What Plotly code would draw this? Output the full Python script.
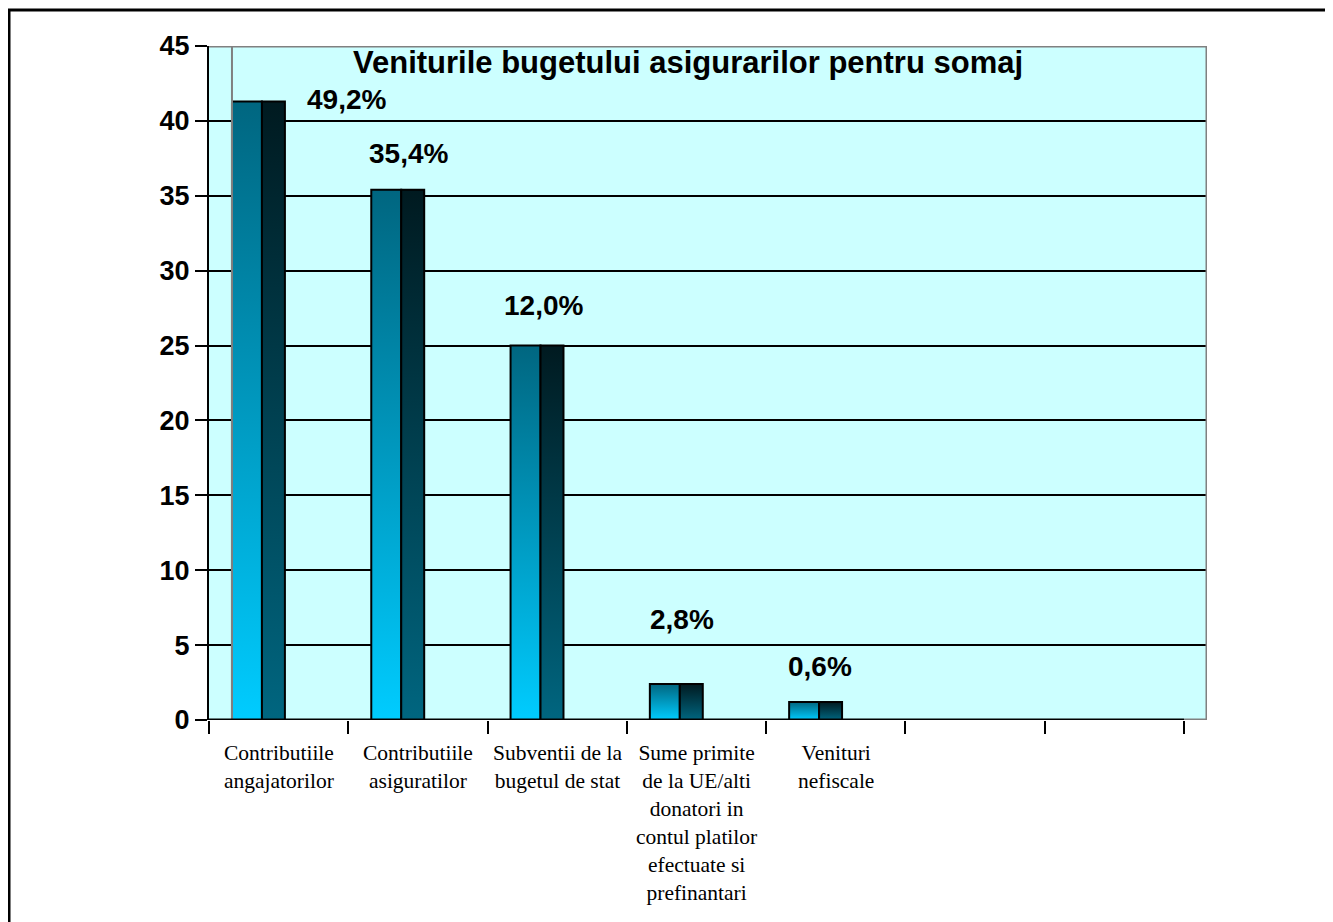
import plotly.graph_objects as go

# ---------------- data ----------------
title_text = "Veniturile bugetului asigurarilor pentru somaj"
categories = [
    "Contributiile<br>angajatorilor",
    "Contributiile<br>asiguratilor",
    "Subventii de la<br>bugetul de stat",
    "Sume primite<br>de la UE/alti<br>donatori in<br>contul platilor<br>efectuate si<br>prefinantari",
    "Venituri<br>nefiscale",
    "",
    "",
]
values = [41.3, 35.4, 25.0, 2.4, 1.2]
pct_labels = ["49,2%", "35,4%", "12,0%", "2,8%", "0,6%"]
y_ticks = [0, 5, 10, 15, 20, 25, 30, 35, 40, 45]

# ---------------- layout constants ----------------
# the page body has an 8px margin; the figure is sized to fit the window
W, H = 1325, 914
L, R, T, B = 201, 126, 38, 202
PW, PH = W - L - R, H - T - B
N_SLOTS = len(categories)
DEPTH = 0.165           # 3D wall offset (in category units)
X_MAX = N_SLOTS + DEPTH
FRONT_L, FRONT_R, SIDE_R = 0.165, 0.38, 0.545
# label placement (offset from category start, and y in axis units)
label_dx = [0.99, 0.43, 0.40, 0.395, 0.39]
label_y = [41.4, 37.85, 27.7, 6.68, 3.54]

FRONT_SCALE = [[0, "#00CCFF"], [1, "#006680"]]
SIDE_SCALE = [[0, "#006680"], [1, "#001A20"]]
FONT_SANS = "Liberation Sans, Arial, sans-serif"
FONT_SERIF = "Liberation Serif, Times New Roman, serif"

fig = go.Figure()

for i, v in enumerate(values):
    for x0, x1, scale in ((FRONT_L, FRONT_R, FRONT_SCALE), (FRONT_R, SIDE_R, SIDE_SCALE)):
        fig.add_trace(go.Scatter(
            x=[i + x0, i + x1, i + x1, i + x0, i + x0],
            y=[0, 0, v, v, 0],
            mode="lines",
            fill="toself",
            fillgradient=dict(type="vertical", colorscale=scale),
            line=dict(color="black", width=2),
            hoverinfo="skip",
            showlegend=False,
        ))

shapes = [
    # back wall left edge
    dict(type="line", xref="x", yref="y", x0=DEPTH, x1=DEPTH, y0=0, y1=45,
         line=dict(color="#808080", width=2)),
    # top border
    dict(type="line", xref="x", yref="y", x0=0, x1=X_MAX, y0=45, y1=45,
         line=dict(color="#808080", width=3)),
    # right border
    dict(type="line", xref="x", yref="y", x0=X_MAX, x1=X_MAX, y0=0, y1=45,
         line=dict(color="#808080", width=3)),
    # bottom gray part
    dict(type="line", xref="x", yref="y", x0=N_SLOTS, x1=X_MAX, y0=0, y1=0,
         line=dict(color="#808080", width=3)),
    # x axis line
    dict(type="line", xref="x", yref="y", x0=0, x1=N_SLOTS, y0=0, y1=0,
         line=dict(color="black", width=3)),
    # outer chart border
    dict(type="rect", xref="paper", yref="paper",
         x0=(1 - L) / PW, x1=(1319 - L) / PW,
         y0=-0.5, y1=(H - B - 2) / PH,
         line=dict(color="black", width=3), fillcolor="rgba(0,0,0,0)", layer="below"),
]

annotations = []
for i, c in enumerate(categories):
    if c:
        annotations.append(dict(
            x=i + 0.5, y=0, xref="x", yref="y", text=c, showarrow=False,
            yanchor="top", yshift=-19, align="center",
            font=dict(family=FONT_SERIF, size=21.5, color="black"),
        ))
for i, t in enumerate(pct_labels):
    annotations.append(dict(
        x=i + label_dx[i], y=label_y[i], xref="x", yref="y", text=t, showarrow=False,
        xanchor="center", yanchor="middle",
        font=dict(family=FONT_SANS, size=28, color="black", weight="bold"),
    ))
annotations.append(dict(
    x=(688 - 8 - L) / PW, y=(H - B - 54) / PH, xref="paper", yref="paper",
    text=title_text, showarrow=False, xanchor="center", yanchor="middle",
    font=dict(family=FONT_SANS, size=31, color="black", weight="bold"),
))

fig.update_layout(
    width=W, height=H, autosize=False,
    margin=dict(l=L, r=R, t=T, b=B, pad=0),
    paper_bgcolor="white",
    plot_bgcolor="#CCFFFF",
    showlegend=False,
    shapes=shapes,
    annotations=annotations,
    xaxis=dict(
        range=[0, X_MAX], tickvals=list(range(N_SLOTS + 1)),
        ticktext=[""] * (N_SLOTS + 1),
        ticks="outside", ticklen=13, tickwidth=2, tickcolor="black",
        showgrid=False, zeroline=False, showline=False, fixedrange=True,
    ),
    yaxis=dict(
        range=[0, 45], tickvals=y_ticks, ticktext=[str(t) for t in y_ticks],
        ticks="outside", ticklen=12, tickwidth=2, tickcolor="black",
        showgrid=True, gridcolor="black", gridwidth=2,
        zeroline=False, showline=True, linecolor="black", linewidth=2,
        tickfont=dict(family=FONT_SANS, size=27, color="black", weight="bold"),
        fixedrange=True,
    ),
)

fig.write_html("out.html")
